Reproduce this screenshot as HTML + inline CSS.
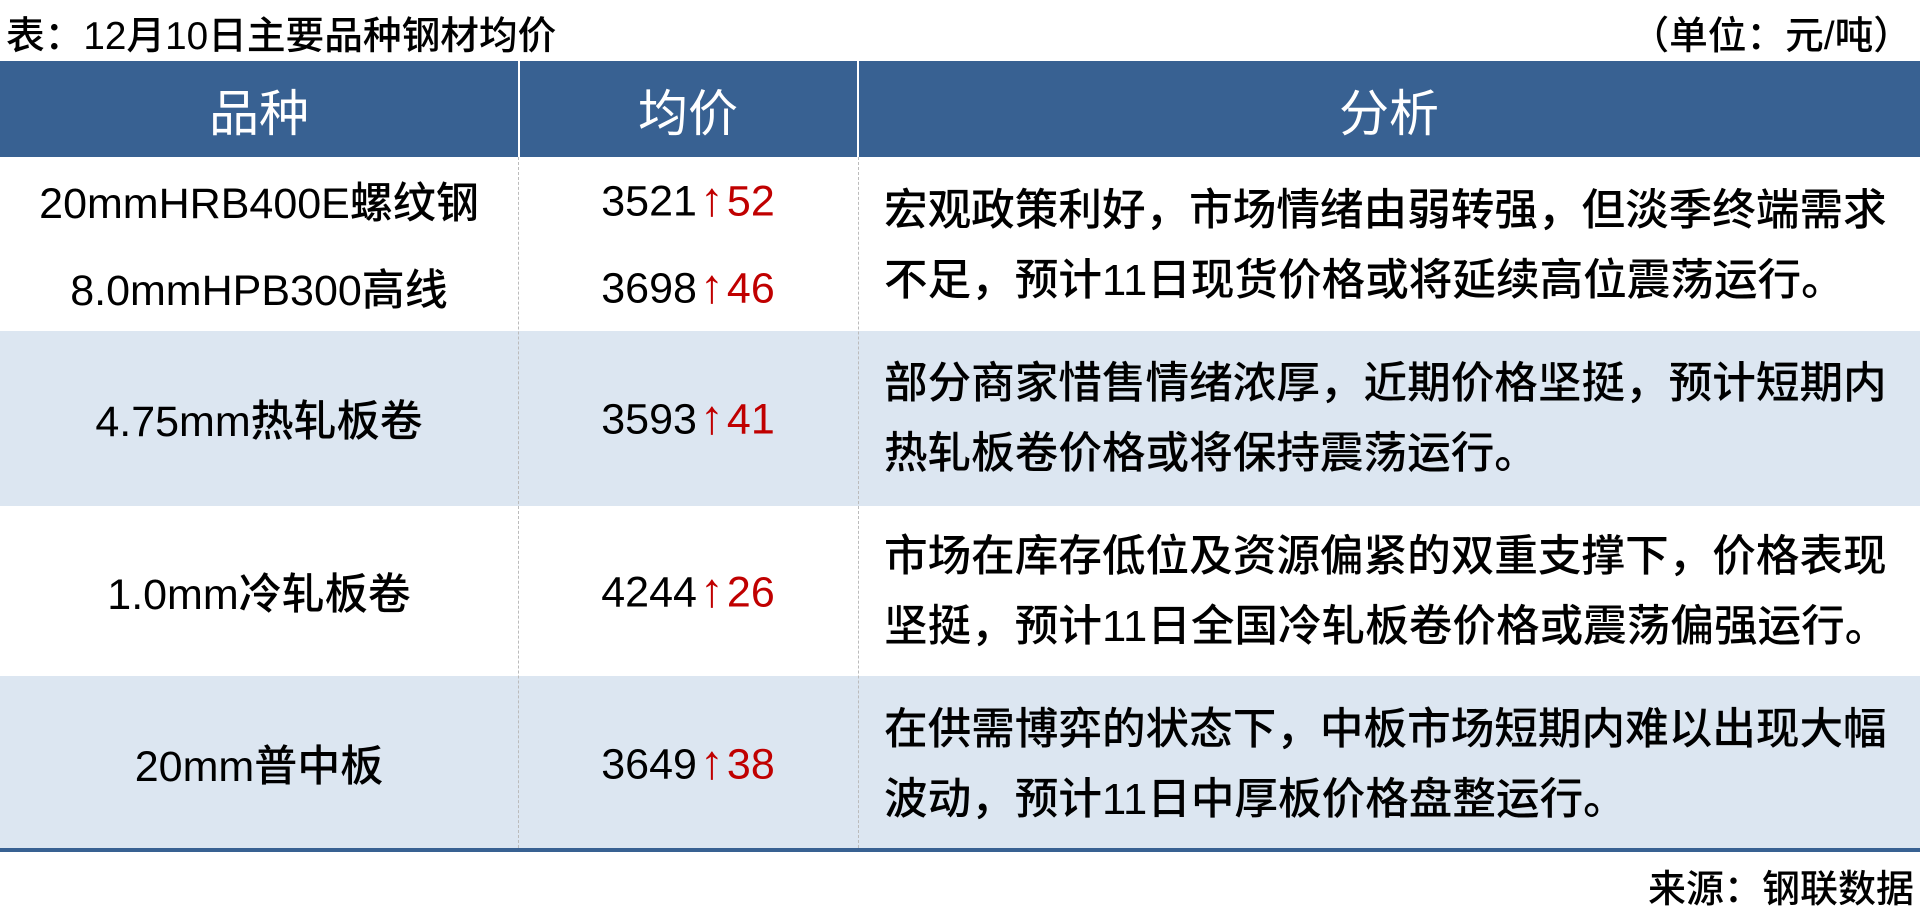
<!DOCTYPE html>
<html><head><meta charset="utf-8"><style>
body{margin:0;width:1920px;height:918px;background:#fff;position:relative;overflow:hidden;font-family:"Liberation Sans","Noto Sans CJK SC",sans-serif;color:#000;font-weight:500}
.a{position:absolute;white-space:nowrap}
.c{position:absolute;text-align:center;white-space:nowrap;transform:translateY(-50%)}
.t{font-size:43.6px;line-height:70px}
.r{color:#c00000}
.n{font-size:43px}
.ar{font-size:48px;margin:0 3px}
</style></head><body>
<div class="a" style="left:6px;top:5px;font-size:38.7px">表：12月10日主要品种钢材均价</div>
<div class="a" style="right:8px;top:5px;font-size:38.7px">（单位：元/吨）</div>
<div class="a" style="left:0;top:61px;width:1920px;height:96px;background:#386192"></div>
<div class="a" style="left:518px;top:61px;width:2px;height:96px;background:#fff"></div>
<div class="a" style="left:857px;top:61px;width:2px;height:96px;background:#fff"></div>
<div class="c" style="left:0;width:518px;top:110px;color:#fff;font-size:50px;font-weight:normal">品种</div>
<div class="c" style="left:519px;width:338px;top:110px;color:#fff;font-size:50px;font-weight:normal">均价</div>
<div class="c" style="left:858px;width:1062px;top:110px;color:#fff;font-size:50px;font-weight:normal">分析</div>
<div class="a" style="left:0;top:331px;width:1920px;height:175px;background:#dce6f1"></div>
<div class="a" style="left:0;top:676px;width:1920px;height:172px;background:#dce6f1"></div>
<div class="a" style="left:518px;top:157px;height:691px;border-left:1px dashed #bbb"></div>
<div class="a" style="left:858px;top:157px;height:691px;border-left:1px dashed #bbb"></div>
<div class="a" style="left:0;top:848px;width:1920px;height:4px;background:#386192"></div>
<div class="c n" style="left:0;width:518px;top:200px">20mmHRB400E螺纹钢</div>
<div class="c n" style="left:0;width:518px;top:287px">8.0mmHPB300高线</div>
<div class="c n" style="left:0;width:518px;top:418px">4.75mm热轧板卷</div>
<div class="c n" style="left:0;width:518px;top:591px">1.0mm冷轧板卷</div>
<div class="c n" style="left:0;width:518px;top:763px">20mm普中板</div>
<div class="c n" style="left:519px;width:338px;top:200px">3521<span class="r"><span class="ar">↑</span>52</span></div>
<div class="c n" style="left:519px;width:338px;top:287px">3698<span class="r"><span class="ar">↑</span>46</span></div>
<div class="c n" style="left:519px;width:338px;top:418px">3593<span class="r"><span class="ar">↑</span>41</span></div>
<div class="c n" style="left:519px;width:338px;top:591px">4244<span class="r"><span class="ar">↑</span>26</span></div>
<div class="c n" style="left:519px;width:338px;top:763px">3649<span class="r"><span class="ar">↑</span>38</span></div>
<div class="a t" style="left:884px;top:176px">宏观政策利好，市场情绪由弱转强，但淡季终端需求<br>不足，预计11日现货价格或将延续高位震荡运行。</div>
<div class="a t" style="left:884px;top:349px">部分商家惜售情绪浓厚，近期价格坚挺，预计短期内<br>热轧板卷价格或将保持震荡运行。</div>
<div class="a t" style="left:884px;top:522px">市场在库存低位及资源偏紧的双重支撑下，价格表现<br>坚挺，预计11日全国冷轧板卷价格或震荡偏强运行。</div>
<div class="a t" style="left:884px;top:695px">在供需博弈的状态下，中板市场短期内难以出现大幅<br>波动，预计11日中厚板价格盘整运行。</div>
<div class="a" style="right:6px;top:858px;font-size:38px">来源：钢联数据</div>
</body></html>
